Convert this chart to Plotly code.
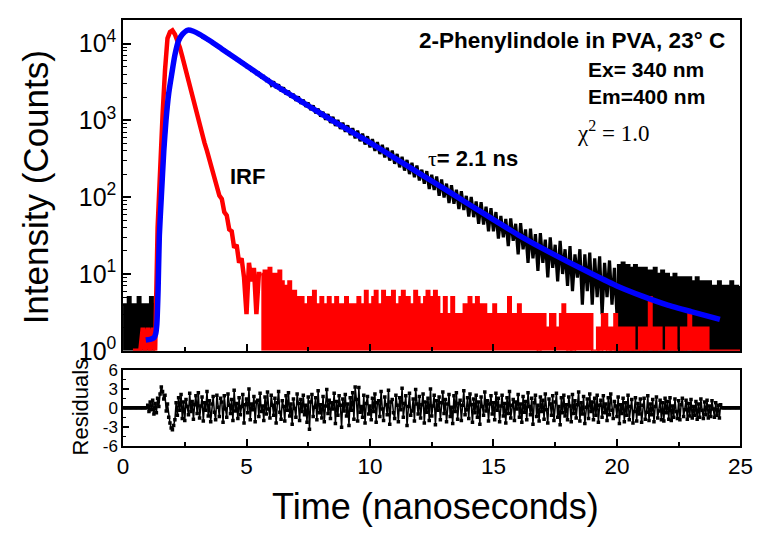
import plotly.graph_objects as go

# ---------------- data ----------------
DT = 0.1  # ns per plotted channel

# decay data, black: flat pre-pulse background (t = 0.0 ... 1.3 ns)
black_pre_t0 = 0.0
black_pre = [4, 4, 5, 4, 4, 4, 5, 4, 4, 4, 4, 5, 4, 4]

# decay data, black: main part (t = 1.3 ... 20.0 ns)
black_main_t0 = 1.3
black_main = [
    4, 7, 70, 210, 680, 1600, 2950, 4600, 7100, 9600, 11500, 13200, 14300, 14900, 15100, 14600, 14200,
    13500, 13100, 12200, 12100, 11200, 11100, 10200, 10100, 9200, 9150,
    8350, 8300, 7550, 7500, 6800, 6780, 6150, 6120, 5540, 5560,
    5000, 5020, 4480, 4560, 4050, 4120, 3650, 3740, 3290, 3380,
    2900, 3200, 2640, 2930, 2390, 2680, 2180, 2420, 1990, 2200,
    1800, 2040, 1650, 1850, 1500, 1700, 1360, 1560, 1240, 1420,
    1120, 1290, 1020, 1200, 930, 1110, 850, 1010, 775, 930,
    710, 860, 645, 790, 585, 735, 535, 670, 485, 620,
    445, 570, 400, 520, 365, 480, 330, 440, 300, 405,
    272, 365, 245, 335, 222, 305, 200, 280, 182, 258,
    165, 228, 150, 218, 128, 196, 124, 186, 104, 170,
    99, 150, 84, 143, 82, 125, 70, 120, 68, 104,
    56, 101, 55, 88, 45, 86, 44, 75, 36, 72,
    36, 64, 29, 57, 30, 52, 23, 53, 27, 45,
    18, 46, 21, 38, 14, 39, 16, 33, 11, 34,
    14, 28, 9, 30, 12, 24, 8, 27, 10, 21,
    7, 23, 6, 18, 9, 21, 4, 18, 6, 19,
    4, 16, 5, 17, 3, 14, 5, 15, 4, 12,
    3,
]

# decay data, black: late tail, upper envelope (t = 20.0 ... 25.0 ns)
black_tail_t0 = 20.0
black_tail = [
    13, 12, 14, 11, 13, 10, 12, 13, 11, 12,
    11, 12, 9, 11, 10, 12, 9, 10, 11, 9,
    10, 8, 9, 10, 8, 9, 7, 9, 8, 9,
    8, 7, 9, 8, 6, 8, 7, 8, 7, 6,
    7, 8, 6, 7, 6, 7, 8, 6, 7, 6,
    7,
]

# instrument response function (IRF), red: pulse part (t = 0.4 ... 5.6 ns)
irf_main_t0 = 0.4
irf_main = [
    1, 1, 1, 1, 2, 1, 2, 1, 2, 1,
    40, 300, 1150, 4500, 11700, 14100, 14800, 13200, 11200, 8900,
    6760, 5000, 3700, 2820, 2090, 1480, 1100, 850, 660, 510,
    400, 310, 250, 178, 150, 105, 95, 64, 58, 38,
    36, 22, 24, 14, 16, 9, 3, 14, 8, 12,
    3, 10, 10,
]

# IRF, red: background tail (t = 5.6 ... 25.0 ns)
irf_tail_t0 = 5.6
irf_tail = [
    10, 11, 9, 12, 9, 10, 8, 11, 8, 7,
    6, 8, 5, 6, 5, 4, 5, 4, 4, 5,
    4, 6, 4, 4, 5, 3, 4, 5, 4, 4,
    5, 3, 4, 4, 5, 4, 4, 3, 4, 5,
    4, 4, 6, 4, 3, 5, 6, 4, 4, 6,
    4, 5, 3, 6, 4, 4, 5, 6, 4, 5,
    4, 3, 6, 5, 4, 4, 5, 6, 3, 5,
    6, 5, 3, 3, 5, 3, 3, 5, 3, 3,
    2, 3, 4, 4, 5, 4, 4, 5, 4, 3,
    4, 3, 3, 2, 4, 3, 3, 2, 3, 3,
    5, 3, 3, 3, 4, 3, 2, 3, 2, 3,
    3, 3, 1, 3, 3, 2, 2, 3, 3, 2,
    2, 3, 4, 3, 1, 3, 1, 3, 3, 2,
    3, 3, 2, 3, 1, 1, 2, 1, 3, 3,
    1, 2, 1, 3, 1, 2, 2, 1, 2, 1,
    2, 1, 1, 2, 2, 1, 2, 5, 2, 1,
    2, 2, 1, 1, 2, 2, 1, 2, 1, 1,
    2, 1, 2, 3, 2, 1, 2, 1, 2, 1,
    2, 1, 1, 1, 1, 1, 1, 1, 1, 1,
    1, 1, 1, 1, 1,
]

# fitted curve, blue
fit_t = [0.92, 1.1, 1.25, 1.32, 1.37, 1.42, 1.47, 1.55, 1.65, 1.74, 1.85, 1.97, 2.1, 2.24,
         2.4, 2.63, 2.85, 3.1, 3.55, 4.0, 5.0, 6.0, 7.0, 8.0, 9.0, 10.0, 11.0, 12.0, 13.0,
         14.0, 15.0, 16.0, 17.0, 18.0, 19.0, 20.0, 21.0, 22.0, 23.0, 24.17]
fit_counts = [1.38, 1.41, 1.48, 1.66, 2.24, 6.3, 31.6, 100, 398, 1000, 2240, 3980, 7080, 10700,
              13180, 14960, 14450, 13180, 10700, 8510, 5130, 3090, 1950, 1230, 794, 513, 324, 204, 129,
              81, 51, 32.4, 21.4, 14.5, 10.0, 7.0, 5.2, 4.0, 3.24, 2.57]

# weighted residuals (t = 0.0 ... 25.0 ns, every 0.05 ns)
RES_DT = 0.05
res_t0 = 0.0
residuals = (
    [0.0] * 20 +
    [0.4, -0.6, 0.9, -0.3, 1.2, -1.0, 0.7, -0.8, 1.5, 0.2, 2.2, 3.3, 2.6, 1.4, 2.0, -0.5, 0.6, -1.5, -2.4, -3.2] +
    [-3.5, -2.8, -1.9, 0.8, -1.2, 1.6, -0.4, 2.1, -1.7, 0.9, -2.0, 1.3, 0.2, -1.1, 2.3, -0.6, 1.0, -1.8, 0.5, 1.9] +
    [-0.9, 2.4, -1.6, 0.3, 1.7, -2.1, 0.8, -0.4, 2.6, -1.3, 1.1, -2.2, 0.6, 1.8, -0.7, -1.9, 2.0, 0.1, -1.4, 1.5] +
    [0.9, -2.3, 1.9, -0.2, -1.5, 2.2, 0.4, -0.9, 1.3, -2.0, 2.8, -0.5, 0.7, -1.7, 1.6, -1.1, 0.2, 2.1, -2.4, 0.5] +
    [1.4, -0.8, 3.0, -1.9, 0.6, -0.3, 1.8, -2.2, 0.9, 1.2, -1.4, 2.3, -0.6, 0.3, -2.0, 1.7, -1.0, 2.5, -0.2, -1.6] +
    [2.0, 0.4, -1.2, 1.5, -2.4, 0.8, 2.6, -0.7, -1.8, 1.1, 0.2, -2.1, 1.9, -0.4, 2.4, -1.3, 0.6, -2.6, 1.4, -0.1] +
    [-1.5, 2.2, 0.7, -2.0, 1.3, -0.6, 2.0, -1.1, 0.4, -2.3, 1.7, -3.4, 0.9, 2.1, -1.4, 0.1, 1.6, -1.9, 2.7, -0.8] +
    [0.5, -1.6, 1.8, -2.2, 0.3, 2.9, -0.9, 1.2, -1.7, 0.8, -0.2, 2.3, -2.5, 1.0, -1.2, 1.9, 0.4, -3.1, 1.4, -0.5] +
    [2.1, -1.3, 0.6, -2.8, 1.6, -0.4, 2.4, -1.8, 3.3, 1.3, -2.1, 3.2, -0.7, 0.2, -1.5, 2.0, -2.4, 0.7, 1.8, -1.0] +
    [0.3, -1.9, 1.5, -0.6, 2.2, -2.3, 0.8, 1.1, -1.4, 2.6, -0.2, -2.0, 1.7, 0.5, -1.1, 2.8, -2.6, 0.9, 1.3, -0.8] +
    [-1.7, 2.0, 0.4, -2.2, 1.6, -0.3, 3.1, -1.5, 0.7, 1.9, -2.8, 0.2, 2.3, -1.2, -0.5, 1.4, -2.1, 2.9, 0.6, -1.0] +
    [1.8, -1.6, 0.5, 2.2, -2.4, 0.9, -0.7, 1.5, -2.0, 3.0, -1.3, 0.3, 2.0, -2.7, 1.1, -0.4, 1.7, -1.9, 0.8, 2.5] +
    [-0.9, 1.3, -2.2, 0.6, 2.1, -1.4, 0.1, -2.5, 1.9, -0.6, 2.4, -1.8, 0.7, 1.2, -2.0, 0.4, 2.7, -1.1, -0.3, 1.6] +
    [-1.7, 2.2, 0.5, -2.3, 1.4, -0.8, 2.0, -1.5, 0.9, -2.6, 1.7, 0.2, -1.2, 2.5, -0.5, 1.1, -2.1, 0.6, 1.9, -1.0] +
    [0.8, -1.9, 2.3, -0.4, 1.5, -2.2, 0.3, 2.0, -1.3, 0.7, -2.4, 1.6, -0.9, 2.6, -1.6, 0.4, 1.3, -2.0, 0.9, -0.2] +
    [2.1, -1.5, 0.6, -2.3, 1.8, -0.7, 1.0, -1.9, 2.4, 0.2, -1.1, 1.5, -2.6, 0.8, 2.0, -1.4, 0.4, -2.1, 1.7, -0.6] +
    [1.2, -1.8, 2.2, -0.3, -2.4, 1.4, 0.6, -1.2, 1.9, -2.0, 0.9, 2.3, -1.5, 0.2, -2.7, 1.6, -0.8, 2.0, -1.3, 0.5] +
    [-1.9, 1.7, 0.3, -2.2, 2.1, -0.9, 1.1, -1.6, 0.5, 2.5, -2.1, 0.8, -1.0, 1.8, -2.5, 0.1, 1.4, -1.7, 2.2, -0.6] +
    [0.9, -1.9, 1.5, -1.2, 2.0, -2.3, 0.4, 1.2, -1.5, 1.9, -0.8, 0.6, -2.0, 1.6, -1.1, 2.2, -0.4, -1.7, 1.0, 0.3] +
    [-1.4, 1.7, -2.5, 0.5, -0.9, 1.5, -2.2, 0.8, -1.2, 2.0, -1.9, 0.2, 1.3, -2.4, -0.6, 1.6, -2.1, 0.7, -1.0, 1.4] +
    [-2.3, 0.4, 1.5, -1.8, -0.7, 1.9, -2.0, 0.6, -1.1, 1.3, -2.2, 0.2, 1.7, -1.6, -0.5, 1.2, -1.9, 0.8, -2.1, 1.5] +
    [-0.8, 1.0, -1.8, 1.6, -2.0, 0.3, -1.5, 1.4, -0.6, -1.7, 1.1, -1.9, 0.5, 1.5, -1.4, -0.3, 1.2, -1.8, 0.7, -1.3] +
    [1.3, -1.6, 0.2, -1.2, 1.0, -1.8, 0.6, -1.5, 1.4, -0.4, -1.7, 0.9, -1.1, 1.2, -1.6, 0.3, -1.4, 1.1, -0.2, -1.5] +
    [0.8, -1.2, 0.4, -1.6, 0.5] +
    [0.0] * 16
)

# time-axis ticks of the residual panel
time_ticks = [0, 5, 10, 15, 20, 25]
time_tick_labels = ["0", "5", "10", "15", "20", "25"]


def channel_times(t0, dt, n):
    return [round(t0 + i * dt, 4) for i in range(n)]


t_black_pre = channel_times(black_pre_t0, DT, len(black_pre))
t_black_main = channel_times(black_main_t0, DT, len(black_main))
t_black_tail = channel_times(black_tail_t0, DT, len(black_tail))
t_irf_main = channel_times(irf_main_t0, DT, len(irf_main))
t_irf_tail = channel_times(irf_tail_t0, DT, len(irf_tail))
t_res = channel_times(res_t0, RES_DT, len(residuals))

# ---------------- figure ----------------
W, H = 769, 541
FONT = "Arial, Liberation Sans, Helvetica, sans-serif"
SERIF = "Times New Roman, Liberation Serif, serif"


def px(x):
    return x / W


def py(y):
    return 1 - y / H


X_DOM = [px(120), px(753)]
MAIN_Y = [py(357), py(12)]
RES_Y = [py(456), py(377)]

fig = go.Figure()


def add_filled(t, y, color, width):
    # invisible baseline at the bottom of the log axis (10^0), then the histogram filled down to it
    fig.add_trace(go.Scatter(x=t, y=[1] * len(t), mode="lines", line=dict(width=0, color=color),
                             hoverinfo="skip", showlegend=False))
    fig.add_trace(go.Scatter(x=t, y=y, mode="lines", line=dict(color=color, width=width, shape="hv"),
                             fill="tonexty", fillcolor=color, showlegend=False))


add_filled(t_black_pre, black_pre, "black", 2.5)
add_filled(t_black_tail, black_tail, "black", 2.5)
fig.add_trace(go.Scatter(x=t_black_main, y=black_main, mode="lines",
                         line=dict(color="black", width=3.2), showlegend=False))

add_filled(t_irf_tail, irf_tail, "#ff0000", 2.5)
fig.add_trace(go.Scatter(x=t_irf_main, y=irf_main, mode="lines",
                         line=dict(color="#ff0000", width=4.5), showlegend=False))

fig.add_trace(go.Scatter(x=fit_t, y=fit_counts, mode="lines",
                         line=dict(color="#0000ff", width=5.5, shape="spline", smoothing=0.6), showlegend=False))

fig.add_trace(go.Scatter(x=t_res, y=residuals, mode="lines+markers", xaxis="x2", yaxis="y2",
                         line=dict(color="black", width=1.5),
                         marker=dict(symbol="square", size=3.5, color="black", line=dict(width=0)),
                         showlegend=False))

axis_line = dict(showline=True, linecolor="black", linewidth=1.5, mirror=True,
                 showgrid=False, zeroline=False)

major_y = [1, 10, 100, 1000, 10000]
major_y_text = ["10<sup>0</sup>", "10<sup>1</sup>", "10<sup>2</sup>", "10<sup>3</sup>", "10<sup>4</sup>"]
minor_y = [m * d for d in (1, 10, 100, 1000) for m in range(2, 10)] + [20000]

fig.update_layout(
    width=W, height=H, autosize=False,
    margin=dict(l=0, r=0, t=0, b=0),
    paper_bgcolor="white", plot_bgcolor="white",
    font=dict(family=FONT, color="black"),
    showlegend=False,
    xaxis=dict(domain=X_DOM, anchor="y", range=[0, 25], showticklabels=False,
               ticks="inside", tickmode="linear", tick0=0, dtick=5, ticklen=7, tickwidth=1.5, tickcolor="black",
               minor=dict(ticks="inside", tickmode="linear", tick0=0, dtick=2.5, ticklen=4,
                          tickwidth=1.5, tickcolor="black"),
               **axis_line),
    yaxis=dict(domain=MAIN_Y, anchor="x", type="log", range=[0, 4.3],
               tickmode="array", tickvals=major_y, ticktext=major_y_text,
               ticks="inside", ticklen=8, tickwidth=1.5, tickcolor="black",
               minor=dict(ticks="inside", tickmode="array", tickvals=minor_y, ticklen=4,
                          tickwidth=1.2, tickcolor="black"),
               tickfont=dict(size=25, family=FONT, color="black"),
               **axis_line),
    xaxis2=dict(domain=X_DOM, anchor="y2", range=[0, 25],
                ticks="inside", tickmode="array", tickvals=time_ticks, ticktext=time_tick_labels,
                ticklen=7, tickwidth=1.5, tickcolor="black",
                minor=dict(ticks="inside", tickmode="linear", tick0=0, dtick=2.5, ticklen=4,
                           tickwidth=1.5, tickcolor="black"),
                tickfont=dict(size=22.5, family=FONT, color="black"),
                **axis_line),
    yaxis2=dict(domain=RES_Y, anchor="x2", range=[-6, 6],
                tickmode="array", tickvals=[-6, -3, 0, 3, 6], ticktext=["-6", "-3", "0", "3", "6"],
                ticks="inside", ticklen=6, tickwidth=1.5, tickcolor="black",
                minor=dict(ticks="inside", tickmode="array", tickvals=[-4.5, -1.5, 1.5, 4.5], ticklen=3,
                           tickwidth=1.2, tickcolor="black"),
                tickfont=dict(size=17, family=FONT, color="black"),
                **axis_line),
)

ann = [
    dict(text="Intensity (Counts)", x=px(30), y=py(186), textangle=-90, font=dict(size=35)),
    dict(text="Time (nanoseconds)", x=px(440), y=py(520), font=dict(size=36)),
    dict(text="Residuals", x=px(76), y=py(416), textangle=-90, font=dict(size=22)),
    dict(text="<b>2-Phenylindole in PVA, 23° C</b>", x=px(739), y=py(33), xanchor="right", font=dict(size=22.5)),
    dict(text="<b>Ex= 340 nm</b>", x=px(595), y=py(63), xanchor="left", font=dict(size=21)),
    dict(text="<b>Em=400 nm</b>", x=px(595), y=py(91), xanchor="left", font=dict(size=21)),
    dict(text="χ<sup>2</sup> = 1.0", x=px(583), y=py(128), xanchor="left", font=dict(size=23, family=SERIF)),
    dict(text="<span style='font-family:Liberation Serif, Times New Roman, serif'>τ</span><b>= 2.1 ns</b>",
         x=px(431), y=py(156), xanchor="left", font=dict(size=22)),
    dict(text="<b>IRF</b>", x=px(248), y=py(175), font=dict(size=22)),
]
for a in ann:
    a.setdefault("xanchor", "center")
    fig.add_annotation(xref="paper", yref="paper", showarrow=False, yanchor="middle", **a)

fig.write_html("out.html")
